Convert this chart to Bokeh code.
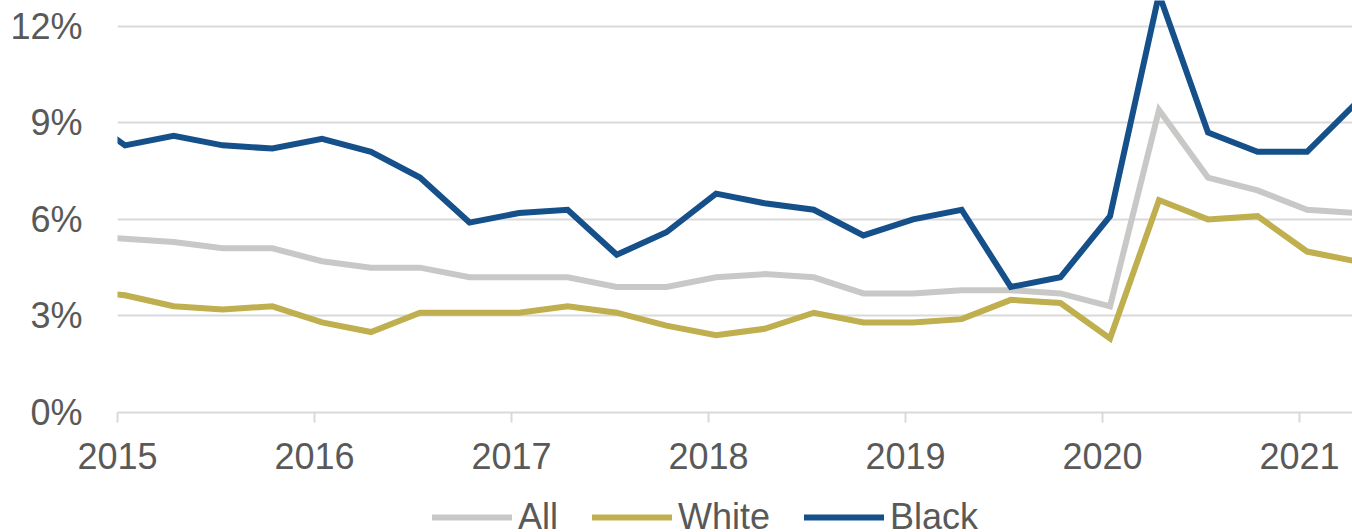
from datetime import date
from bokeh.plotting import figure
from bokeh.layouts import column
from bokeh.models import Range1d, FixedTicker, Legend, LegendItem
from bokeh.embed import file_html
from bokeh.resources import INLINE

# ---- data (quarterly) ----
dates = ["2014-10-15", "2015-01-15", "2015-04-15", "2015-07-15", "2015-10-15",
         "2016-01-15", "2016-04-15", "2016-07-15", "2016-10-15",
         "2017-01-15", "2017-04-15", "2017-07-15", "2017-10-15",
         "2018-01-15", "2018-04-15", "2018-07-15", "2018-10-15",
         "2019-01-15", "2019-04-15", "2019-07-15", "2019-10-15",
         "2020-01-15", "2020-04-15", "2020-07-15", "2020-10-15",
         "2021-01-15", "2021-04-15"]
all_rate = [5.5, 5.4, 5.3, 5.1, 5.1, 4.7, 4.5, 4.5, 4.2, 4.2, 4.2, 3.9, 3.9,
            4.2, 4.3, 4.2, 3.7, 3.7, 3.8, 3.8, 3.7, 3.3, 9.4, 7.3, 6.9, 6.3, 6.2]
white_rate = [3.8, 3.64, 3.3, 3.2, 3.3, 2.8, 2.5, 3.1, 3.1, 3.1, 3.3, 3.1, 2.7,
              2.4, 2.6, 3.1, 2.8, 2.8, 2.9, 3.5, 3.4, 2.3, 6.6, 6.0, 6.1, 5.0, 4.7]
black_rate = [9.4, 8.3, 8.6, 8.3, 8.2, 8.5, 8.1, 7.3, 5.9, 6.2, 6.3, 4.9, 5.6,
              6.8, 6.5, 6.3, 5.5, 6.0, 6.3, 3.9, 4.2, 6.1, 13.0, 8.7, 8.1, 8.1, 9.6]
series_names = ["All", "White", "Black"]
year_ticks = [2015, 2016, 2017, 2018, 2019, 2020, 2021]
y_ticks = [0, 3, 6, 9, 12]
y_tick_labels = ["0%", "3%", "6%", "9%", "12%"]


def to_decimal_year(s):
    d = date.fromisoformat(s)
    start = date(d.year, 1, 1)
    n = (date(d.year + 1, 1, 1) - start).days
    return d.year + (d - start).days / n


x = [to_decimal_year(s) for s in dates]
series = [all_rate, white_rate, black_rate]

FONT = "Liberation Sans"
TXT = "#595959"
GRID = "#d9d9d9"
FS = "36px"
colors = ["#c8c9c7", "#bfaf4e", "#15508a"]
W = 1352
H_MAIN = 490
H_LEG = 42

p = figure(width=W, height=H_MAIN, output_backend="svg", toolbar_location=None,
           x_range=Range1d(2015, 2015 + 1235 / 197), y_range=Range1d(0, 12.8),
           min_border_left=117, min_border_right=0, min_border_top=0,
           min_border_bottom=78)
p.outline_line_color = None
p.background_fill_color = "white"
p.border_fill_color = "white"

for vals, c in zip(series, colors):
    p.line(x, vals, line_color=c, line_width=6, line_join="miter", line_cap="round")

# x axis
p.xaxis.ticker = FixedTicker(ticks=year_ticks)
p.xaxis.major_label_overrides = {t: str(t) for t in year_ticks}
p.xaxis.axis_line_color = GRID
p.xaxis.axis_line_width = 2
p.xaxis.major_tick_line_color = GRID
p.xaxis.major_tick_line_width = 2
p.xaxis.major_tick_out = 10
p.xaxis.major_tick_in = 0
p.xaxis.minor_tick_line_color = None
p.xaxis.major_label_text_font = FONT
p.xaxis.major_label_text_font_size = FS
p.xaxis.major_label_text_color = TXT
p.xaxis.major_label_standoff = 20

# y axis
p.yaxis.ticker = FixedTicker(ticks=y_ticks)
p.yaxis.major_label_overrides = dict(zip(y_ticks, y_tick_labels))
p.yaxis.axis_line_color = None
p.yaxis.major_tick_line_color = None
p.yaxis.minor_tick_line_color = None
p.yaxis.major_tick_out = 0
p.yaxis.major_tick_in = 0
p.yaxis.major_label_text_font = FONT
p.yaxis.major_label_text_font_size = FS
p.yaxis.major_label_text_color = TXT
p.yaxis.major_label_standoff = 35

p.xgrid.grid_line_color = None
p.ygrid.grid_line_color = GRID
p.ygrid.grid_line_width = 2

# legend strip (separate figure so the legend is not clipped by the main frame);
# its frame is aligned with the main frame (left edge at x=117 px)
pl = figure(width=W, height=H_LEG, output_backend="svg", toolbar_location=None,
            x_axis_type=None, y_axis_type=None,
            x_range=Range1d(0, W), y_range=Range1d(0, H_LEG),
            min_border_left=117, min_border_right=0, min_border_top=0,
            min_border_bottom=0)
pl.outline_line_color = None
pl.grid.visible = False
# same series drawn out of this strip's visible range, used only as legend glyphs
leg_renderers = [pl.line(x, vals, line_color=c, line_width=6, line_cap="round")
                 for vals, c in zip(series, colors)]
legend = Legend(items=[LegendItem(label=n, renderers=[r]) for n, r in zip(series_names, leg_renderers)],
                orientation="horizontal", location=(315, -6),
                glyph_width=80, glyph_height=30, label_height=30, label_standoff=6,
                spacing=34, padding=0, margin=0, border_line_color=None,
                background_fill_alpha=0, label_text_font=FONT,
                label_text_font_size=FS, label_text_color=TXT)
pl.add_layout(legend, "center")

layout = column(p, pl, spacing=0)
open("out.html", "w").write(file_html(layout, INLINE))
